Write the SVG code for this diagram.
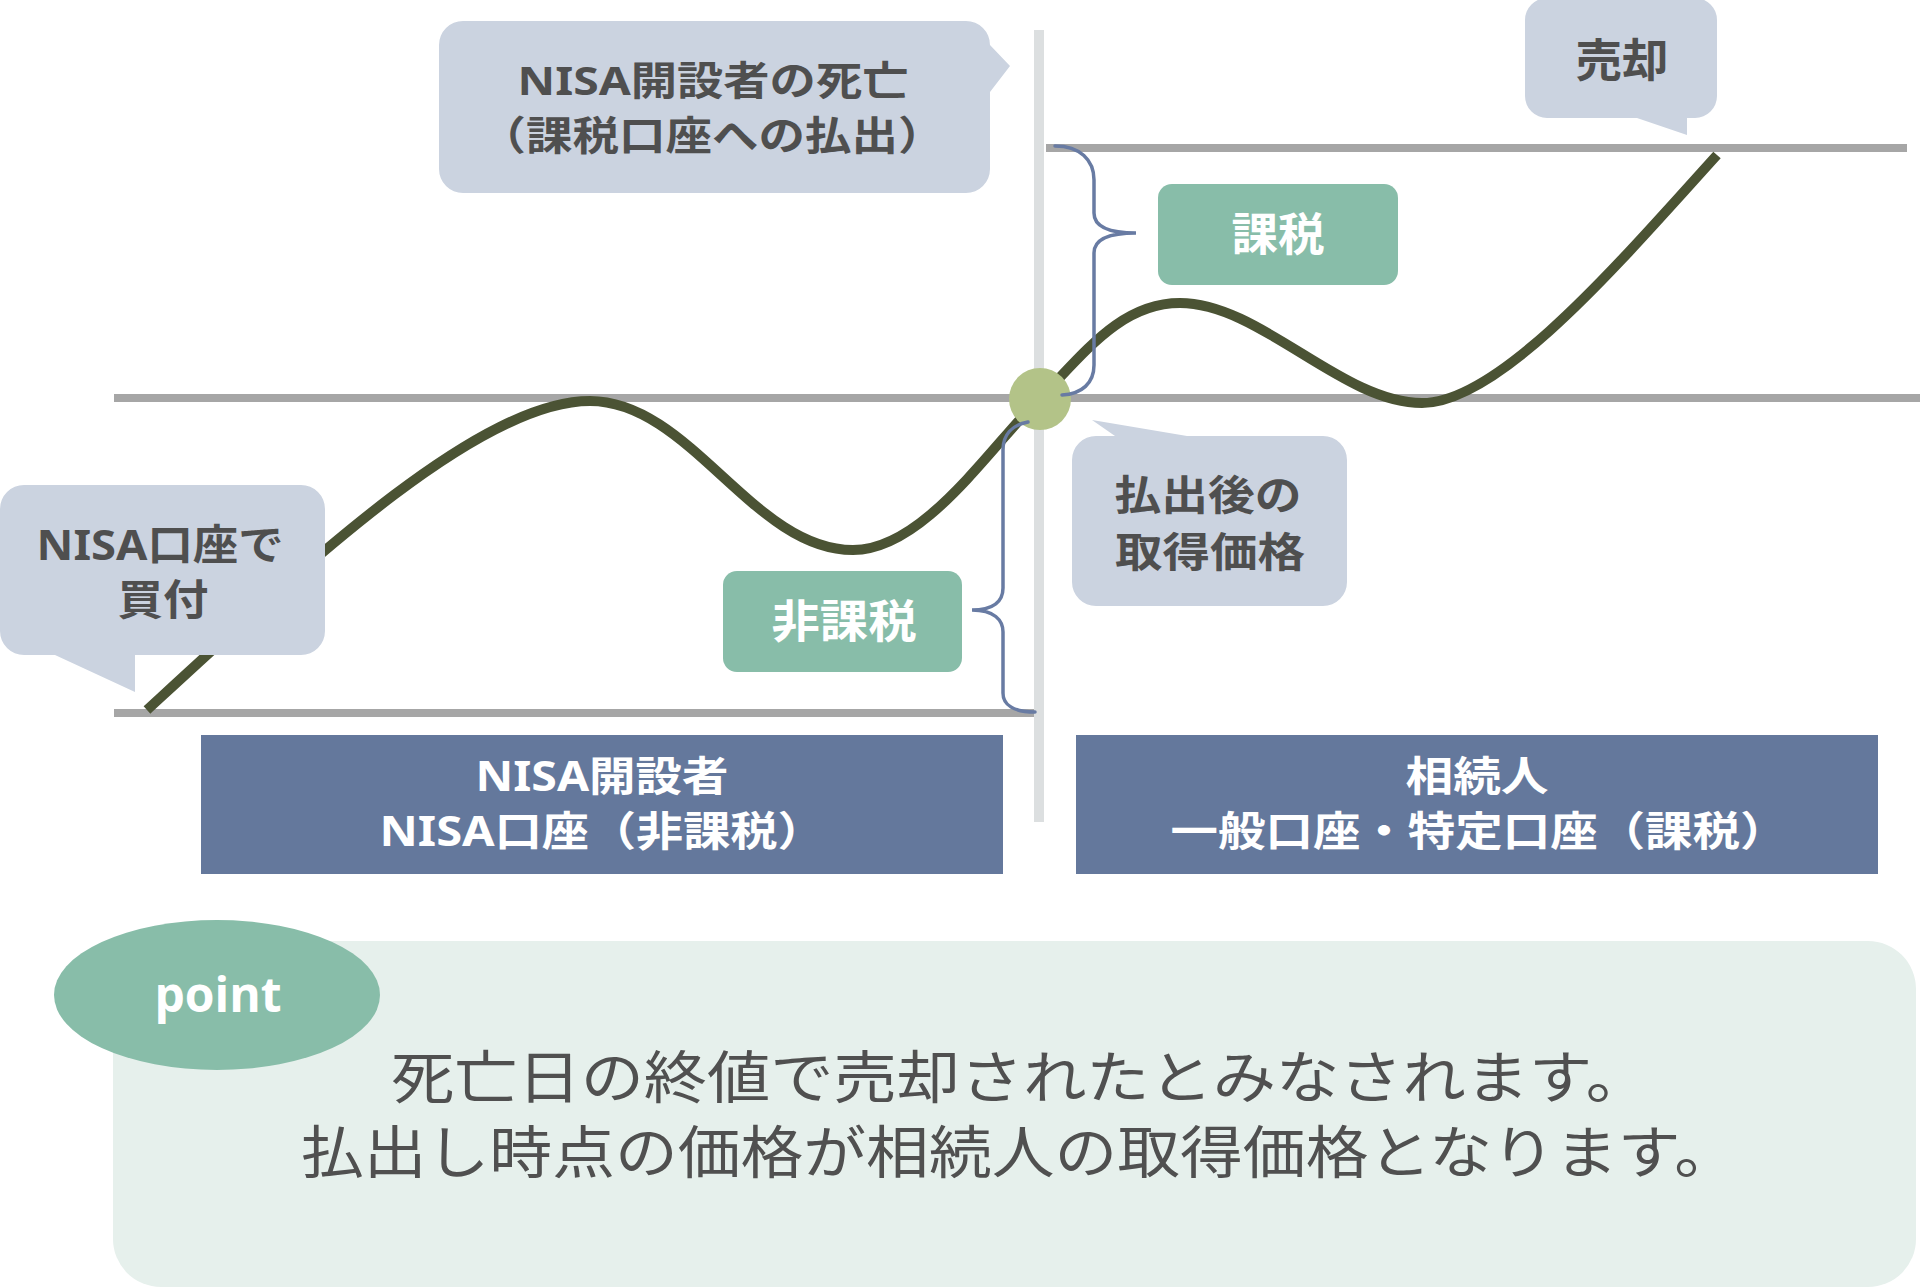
<svg xmlns="http://www.w3.org/2000/svg" width="1920" height="1288" viewBox="0 0 1920 1288">
<style>
.callout{fill:#cbd3e0}
.ct{font-family:"Noto Sans","Noto Sans CJK JP",sans-serif;font-weight:700;fill:#4f4f4f;text-anchor:middle}
.lbl{fill:#88bda9}
.wt{font-family:"Noto Sans","Noto Sans CJK JP",sans-serif;font-weight:700;fill:#ffffff;text-anchor:middle}
.bar{fill:#64789c}
.guide{stroke:#a6a6a6;stroke-width:8;fill:none}
.brace{fill:none;stroke:#687ba3;stroke-width:3.5;stroke-linecap:round}
.mt{font-family:"Noto Sans CJK JP",sans-serif;font-weight:400;fill:#505050;text-anchor:middle;font-size:57px}
</style>
<rect width="1920" height="1288" fill="#ffffff"/>

<g id="guides">
  <line class="guide" x1="114" y1="398" x2="1920" y2="398"/>
  <line class="guide" x1="1046" y1="148" x2="1907" y2="148"/>
  <line class="guide" x1="114" y1="713" x2="1035" y2="713"/>
  <line x1="1039" y1="30" x2="1039" y2="822" stroke="#dcdfe0" stroke-width="10"/>
</g>

<g id="price-curve">
  <path d="M147,710 C310,560 480,401 590,401 C690,401 753,550 853,550 C923,550 989,449 1039,399 C1084,354 1120,303 1180,303 C1260,303 1342,403 1422,403 C1500,403 1620,262 1717,155" fill="none" stroke="#4b5334" stroke-width="10"/>
</g>

<g id="death-point">
  <circle cx="1040" cy="399" r="31" fill="#b3c388"/>
</g>

<g id="connectors">
  <path class="brace" d="M1055,146 C1080,146 1094,160 1094,180 L1094,213 C1094,226 1106,233 1136,233 C1106,233 1094,240 1094,253 L1094,365 C1094,383 1082,394 1062,395"/>
  <path class="brace" d="M1028,422 C1012,425 1003,435 1003,450 L1003,588 C1003,601 994,610 972,610 C994,610 1003,620 1003,632 L1003,693 C1003,705 1014,712 1035,712"/>
</g>

<g id="callout-death">
  <path class="callout" d="M463,21 H966 A24,24 0 0 1 990,45 L1010,66 L990,92 V169 A24,24 0 0 1 966,193 H463 A24,24 0 0 1 439,169 V45 A24,24 0 0 1 463,21 Z"/>
  <text class="ct" x="713" y="95" font-size="40" textLength="391" lengthAdjust="spacingAndGlyphs">NISA開設者の死亡</text>
  <text class="ct" x="712" y="150" font-size="40" textLength="465" lengthAdjust="spacingAndGlyphs">（課税口座への払出）</text>
</g>

<g id="callout-buy">
  <path class="callout" d="M24,485 H301 A24,24 0 0 1 325,509 V631 A24,24 0 0 1 301,655 H135 V692 L55,655 H24 A24,24 0 0 1 0,631 V509 A24,24 0 0 1 24,485 Z"/>
  <text class="ct" x="160" y="560" font-size="42" textLength="247" lengthAdjust="spacingAndGlyphs">NISA口座で</text>
  <text class="ct" x="163" y="615" font-size="42" textLength="91" lengthAdjust="spacingAndGlyphs">買付</text>
</g>

<g id="callout-sell">
  <path class="callout" d="M1547,-2 H1695 A22,22 0 0 1 1717,20 V96 A22,22 0 0 1 1695,118 H1687 V135 L1637,118 H1547 A22,22 0 0 1 1525,96 V20 A22,22 0 0 1 1547,-2 Z"/>
  <text class="ct" x="1622" y="77" font-size="45" textLength="93" lengthAdjust="spacingAndGlyphs">売却</text>
</g>

<g id="callout-basis">
  <path class="callout" d="M1096,436 H1115 L1092,420 L1187,436 H1323 A24,24 0 0 1 1347,460 V582 A24,24 0 0 1 1323,606 H1096 A24,24 0 0 1 1072,582 V460 A24,24 0 0 1 1096,436 Z"/>
  <text class="ct" x="1208" y="510" font-size="41" textLength="187" lengthAdjust="spacingAndGlyphs">払出後の</text>
  <text class="ct" x="1210" y="567" font-size="41" textLength="190" lengthAdjust="spacingAndGlyphs">取得価格</text>
</g>

<g id="label-taxed">
  <rect class="lbl" x="1158" y="184" width="240" height="101" rx="14"/>
  <text class="wt" x="1278" y="251" font-size="45" textLength="93" lengthAdjust="spacingAndGlyphs">課税</text>
</g>

<g id="label-taxfree">
  <rect class="lbl" x="723" y="571" width="239" height="101" rx="14"/>
  <text class="wt" x="844" y="638" font-size="45" textLength="145" lengthAdjust="spacingAndGlyphs">非課税</text>
</g>

<g id="bar-holder">
  <rect class="bar" x="201" y="735" width="802" height="139"/>
  <text class="wt" x="602" y="791" font-size="41" textLength="253" lengthAdjust="spacingAndGlyphs">NISA開設者</text>
  <text class="wt" x="602" y="846" font-size="41" textLength="445" lengthAdjust="spacingAndGlyphs">NISA口座（非課税）</text>
</g>

<g id="bar-heir">
  <rect class="bar" x="1076" y="735" width="802" height="139"/>
  <text class="wt" x="1477" y="791" font-size="41" textLength="143" lengthAdjust="spacingAndGlyphs">相続人</text>
  <text class="wt" x="1479" y="846" font-size="41" textLength="617" lengthAdjust="spacingAndGlyphs">一般口座・特定口座（課税）</text>
</g>

<g id="point-box">
  <rect x="113" y="941" width="1803" height="346" rx="48" fill="#e6f0ec"/>
  <text class="mt" x="1020" y="1098" textLength="1258" lengthAdjust="spacingAndGlyphs">死亡日の終値で売却されたとみなされます。</text>
  <text class="mt" x="1019" y="1173" textLength="1436" lengthAdjust="spacingAndGlyphs">払出し時点の価格が相続人の取得価格となります。</text>
</g>

<g id="point-badge">
  <ellipse cx="217" cy="995" rx="163" ry="75" fill="#88bda9"/>
  <text x="218" y="1012" font-family="'Open Sans',sans-serif" font-weight="700" font-size="48" fill="#ffffff" text-anchor="middle">point</text>
</g>
</svg>
